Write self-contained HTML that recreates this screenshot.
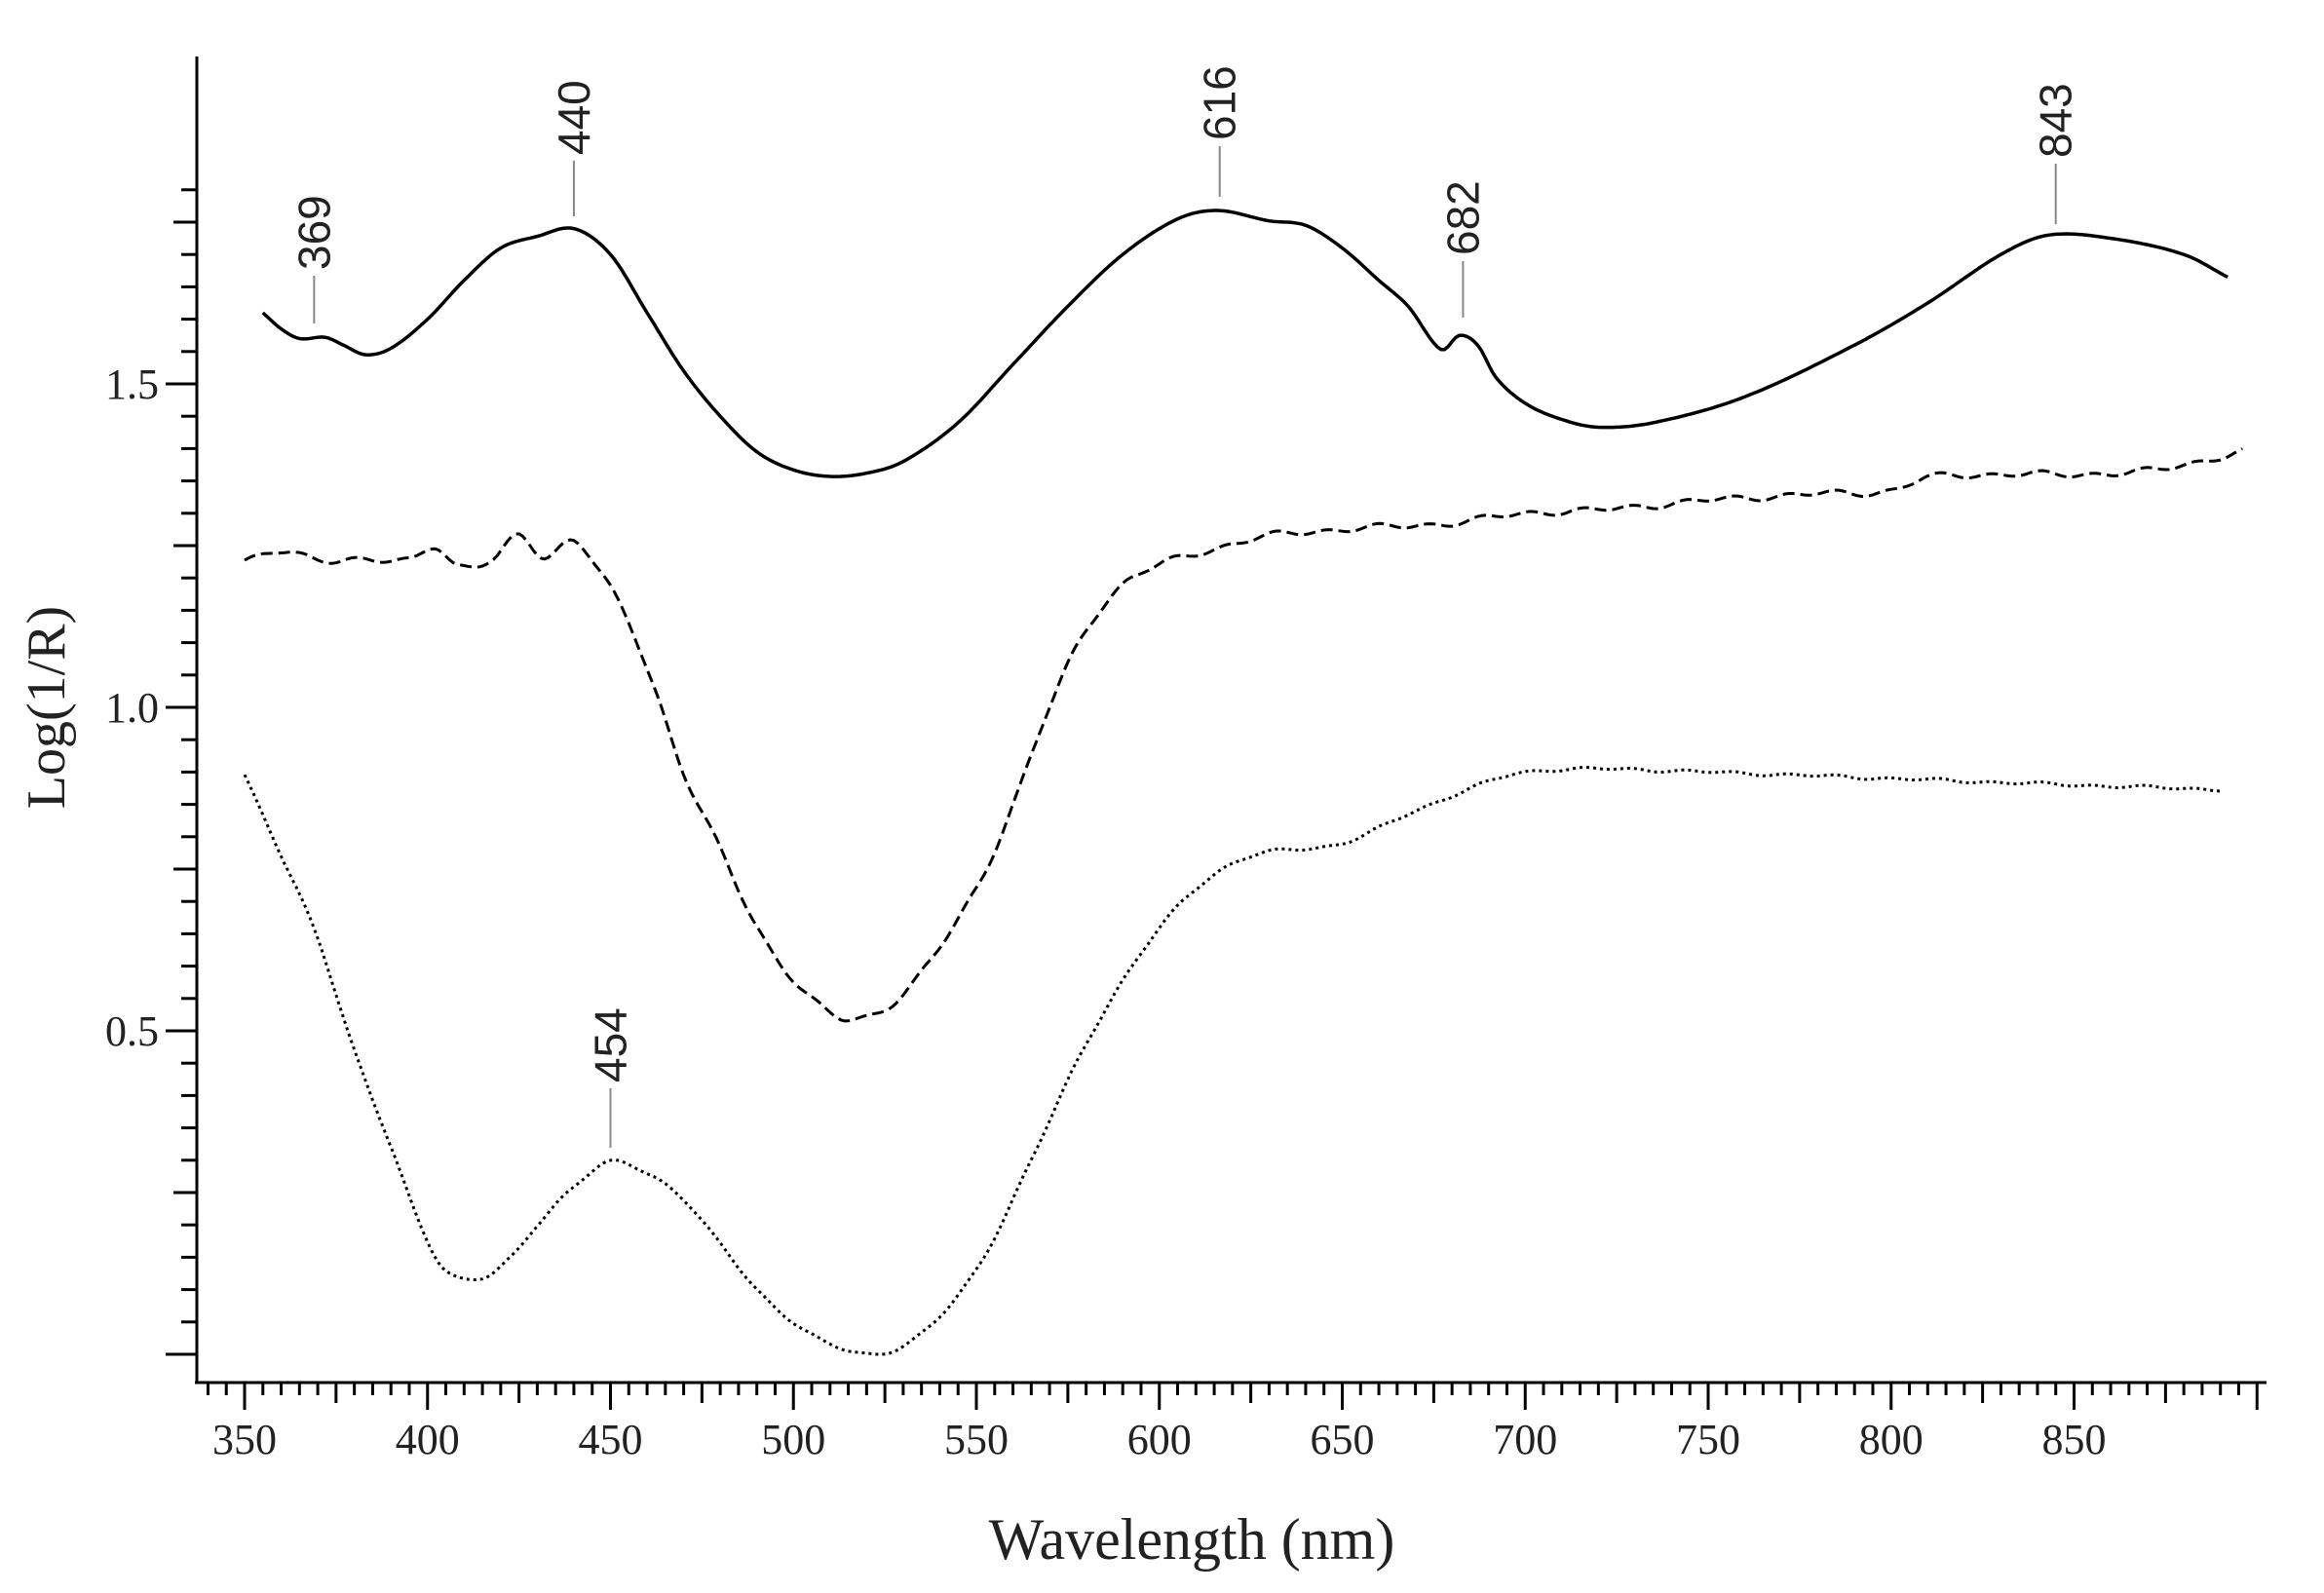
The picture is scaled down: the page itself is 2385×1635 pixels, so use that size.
<!DOCTYPE html>
<html><head><meta charset="utf-8"><style>
html,body{margin:0;padding:0;background:#fff;}
svg{display:block;}
text{fill:#222;}
</style></head><body>
<svg id="s" width="2385" height="1635" viewBox="0 0 2385 1635" xmlns="http://www.w3.org/2000/svg">
<g id="axes" stroke="#000" stroke-width="3" fill="none">
<line x1="202" y1="58" x2="202" y2="1420"/>
<line x1="200" y1="1419" x2="2326" y2="1419"/>
</g>
<g id="ticks" stroke="#000" stroke-width="3"></g>
<g font-family="Liberation Serif, serif" font-size="44" fill="#333">
<text x="163" y="409" text-anchor="end">1.5</text>
<text x="163" y="741" text-anchor="end">1.0</text>
<text x="163" y="1073" text-anchor="end">0.5</text>
</g>
<g id="xl" font-family="Liberation Serif, serif" font-size="44" text-anchor="middle"></g>
<text x="1223" y="1600" font-family="Liberation Serif, serif" font-size="60" text-anchor="middle">Wavelength (nm)</text>
<text transform="translate(66,726) rotate(-90)" font-family="Liberation Serif, serif" font-size="56" text-anchor="middle">Log(1/R)</text>
<g id="curves" fill="none" stroke="#000" stroke-linejoin="round"></g>
<g id="ann" stroke="#888" stroke-width="2"></g>
<g id="annt" font-family="Liberation Sans, sans-serif" font-size="46"></g>
</svg>
<script>
var NS="http://www.w3.org/2000/svg";
function X(w){return 251+(w-350)*3.755;}
function Y(v){return 1390-664*v;}
function el(p,t,a,txt){var e=document.createElementNS(NS,t);for(var k in a)e.setAttribute(k,a[k]);if(txt)e.textContent=txt;document.getElementById(p).appendChild(e);}
for(var i=0;i<=36;i++){var v=i*0.05;var y=Y(v);var maj=(i%5==0);var x1=maj?(i%10==0?170:178):186;el("ticks","line",{x1:x1,y1:y,x2:202,y2:y});}
for(var w=340;w<=900;w+=5){var x=X(w);var l=(w%50==0)?28:((w%25==0)?21:13);el("ticks","line",{x1:x,y1:1419,x2:x,y2:1419+l});}
for(var w=350;w<=850;w+=50)el("xl","text",{x:X(w),y:1492},""+w);
function path(pts,noise,amp,step){
 var d="";var n=pts.length;
 function interp(w){for(var i=0;i<n-1;i++){if(w<=pts[i+1][0]){var a=pts[i],b=pts[i+1];var p0=pts[Math.max(i-1,0)],p3=pts[Math.min(i+2,n-1)];var t=(w-a[0])/(b[0]-a[0]);var m1=(b[1]-p0[1])/(b[0]-p0[0])*(b[0]-a[0]);var m2=(p3[1]-a[1])/(p3[0]-a[0])*(b[0]-a[0]);var t2=t*t,t3=t2*t;return (2*t3-3*t2+1)*a[1]+(t3-2*t2+t)*m1+(-2*t3+3*t2)*b[1]+(t3-t2)*m2;}}return pts[n-1][1];}
 for(var w=pts[0][0];w<=pts[n-1][0]+0.01;w+=step){var v=interp(w);if(noise)v+=amp*(Math.sin(w*0.45)*0.6+Math.sin(w*0.21+1)*0.4);d+=(d?"L":"M")+X(w).toFixed(1)+","+Y(v).toFixed(1);}
 return d;}
var solid=[[355,1.61],[360,1.585],[365,1.57],[372,1.572],[377,1.56],[383,1.545],[390,1.555],[400,1.6],[410,1.66],[420,1.71],[430,1.728],[440,1.74],[450,1.70],[460,1.61],[470,1.52],[480,1.45],[490,1.395],[500,1.367],[510,1.357],[520,1.362],[530,1.38],[545,1.44],[560,1.53],[575,1.62],[590,1.70],[605,1.755],[616,1.768],[630,1.752],[640,1.745],[650,1.71],[660,1.66],[668,1.62],[677,1.553],[682,1.575],[687,1.56],[692,1.51],[700,1.47],[710,1.445],[720,1.433],[735,1.44],[760,1.48],[790,1.56],[810,1.625],[830,1.70],[843,1.73],[860,1.725],[880,1.70],[892,1.665]];
var dashed=[[350,1.228],[360,1.24],[370,1.228],[380,1.23],[395,1.226],[402,1.25],[408,1.22],[418,1.228],[425,1.265],[432,1.232],[440,1.26],[447,1.21],[455,1.13],[462,1.03],[470,0.90],[480,0.78],[490,0.66],[500,0.58],[508,0.535],[515,0.516],[525,0.535],[535,0.59],[550,0.72],[560,0.85],[570,1.0],[580,1.12],[590,1.19],[600,1.22],[615,1.245],[630,1.265],[650,1.275],[680,1.285],[700,1.30],[720,1.305],[750,1.32],[780,1.33],[800,1.335],[810,1.355],[830,1.36],[850,1.36],[870,1.365],[880,1.375],[896,1.395]];
var dotted=[[350,0.896],[360,0.77],[370,0.643],[380,0.47],[390,0.32],[398,0.2],[405,0.13],[415,0.118],[423,0.15],[430,0.2],[440,0.26],[450,0.297],[460,0.28],[470,0.24],[480,0.17],[490,0.1],[500,0.05],[510,0.015],[522,0.0],[532,0.02],[542,0.07],[552,0.15],[565,0.3],[580,0.48],[595,0.62],[610,0.72],[625,0.77],[650,0.79],[670,0.84],[690,0.885],[700,0.90],[720,0.905],[750,0.9],[800,0.89],[850,0.88],[890,0.873]];
el("curves","path",{d:path(solid,false,0,1),"stroke-width":3.5});
el("curves","path",{d:path(dashed,true,0.006,1),"stroke-width":3,"stroke-dasharray":"12 6"});
el("curves","path",{d:path(dotted,true,0.003,1),"stroke-width":3,"stroke-dasharray":"3 4"});
var ann=[[369,369,332,283],[440,440,222,165],[616,616.5,202,150],[682,683,326,268],[843,845,230,168],[454,450,1178,1117]];
ann.forEach(function(a){var x=X(a[1]);el("ann","line",{x1:x,y1:a[2],x2:x,y2:a[3]});el("annt","text",{transform:"translate("+(x+16)+","+(a[3]-6)+") rotate(-90)"},""+a[0]);});
</script>
</body></html>
